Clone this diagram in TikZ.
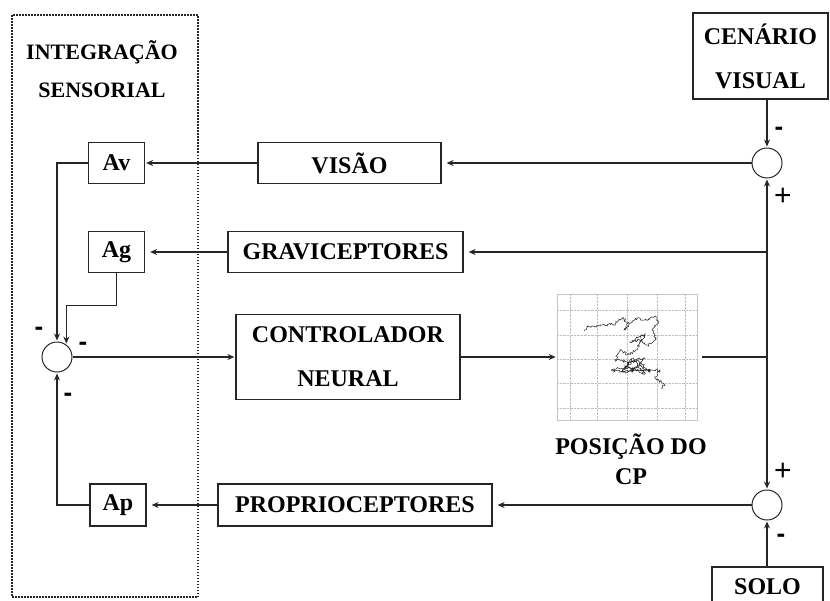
\documentclass[tikz,border=0pt]{standalone}
\usepackage{fontspec}
\setmainfont{Liberation Serif}
\setsansfont{Liberation Sans}
\usetikzlibrary{arrows.meta,calc,positioning,decorations.pathmorphing}

\begin{document}
\begin{tikzpicture}[x=1pt,y=-1pt,>={Stealth[length=7pt,width=6pt]},shorten >=1pt,
    line width=1.2pt,draw=black!85,
    blk/.style={draw,line width=1.2pt,inner sep=0pt,align=center,font=\bfseries\fontsize{24}{44}\selectfont},
    sumnode/.style={circle,draw,line width=1pt,minimum size=30pt,inner sep=0pt},
    sgn/.style={font=\sffamily\bfseries\fontsize{26}{26}\selectfont,inner sep=0pt},
    pls/.style={font=\sffamily\fontsize{30}{30}\selectfont,inner sep=0pt},
    ttl/.style={font=\bfseries\fontsize{22}{38}\selectfont,align=center,inner sep=0pt},
    gap/.style={shorten >=5pt}]
    \useasboundingbox (0,0) rectangle (830,600);
    \clip (0,0) rectangle (830,600);

    % integration block
    \draw[line width=1.5pt,dash pattern=on 1.5pt off 1.5pt] (12,15) rectangle (198,597);
    \node[ttl] (titulo) at (102,69) {INTEGRAÇÃO\\SENSORIAL};

    \node[blk,minimum width=56pt,minimum height=41pt] (av) at (116.5,163) {Av};
    \node[blk,minimum width=56pt,minimum height=41pt] (ag) at (116.5,252) {Ag};
    \node[blk,minimum width=56pt,minimum height=42pt] (ap) at (118,505) {Ap};
    \node[sumnode] (s_1) at (57,357) {};

    % sensors and controller
    \node[blk,minimum width=183pt,minimum height=41pt] (visao) at (349.5,163) {VISÃO};
    \node[blk,minimum width=235pt,minimum height=41pt] (gravi) at (345.5,252) {GRAVICEPTORES};
    \node[blk,minimum width=224pt,minimum height=85pt] (ctrl) at (348,357) {CONTROLADOR\\NEURAL};
    \node[blk,minimum width=274pt,minimum height=42pt] (propri) at (355,505) {PROPRIOCEPTORES};

    % CP trajectory
    \node[draw=gray!45,line width=0.6pt,minimum width=140pt,minimum height=126pt,inner sep=0pt] (cp) at (627,357) {};
    \foreach \gx in {570,597,627,657,685}
        \draw[gray!50,line width=0.4pt,densely dotted] (\gx,294) -- (\gx,420);
    \foreach \gy in {310,335,359,383,408}
        \draw[gray!50,line width=0.4pt,densely dotted] (557,\gy) -- (697,\gy);
    \pgfmathsetseed{7}
    \draw[line width=0.5pt,black!85,decorate,decoration={random steps,segment length=1.2pt,amplitude=1.3pt}]
        (584,331) -- (588,327) -- (600,326) -- (615,324) -- (622,318) -- (628,322) -- (624,330)
        -- (635,318) -- (645,320) -- (655,316) -- (658,322) -- (652,330) -- (656,338) -- (648,345)
        -- (640,340) -- (630,342) -- (645,334) -- (636,350) -- (628,355) -- (620,350) -- (615,360)
        -- (630,362) -- (645,358) -- (635,368) -- (618,368) -- (612,371) -- (628,372) -- (640,366)
        -- (650,372) -- (638,360) -- (625,366) -- (645,374) -- (632,358) -- (622,372) -- (640,370)
        -- (660,370) -- (655,378) -- (665,385) -- (660,388);
    \node[ttl,font=\bfseries\fontsize{24}{30}\selectfont] (cptxt) at (631,459.5) {POSIÇÃO DO\\CP};

    % right side
    \node[blk,minimum width=135pt,minimum height=86pt] (cenario) at (760.5,56) {CENÁRIO\\VISUAL};
    \node[blk,minimum width=111pt,minimum height=40pt] (solo) at (767.5,587) {SOLO};
    \node[sumnode] (s_2) at (767,163) {};
    \node[sumnode] (s_3) at (767,505) {};
    \coordinate (j_cp) at (767,357);
    \coordinate (j_g) at (767,252);
    \coordinate (ag_b) at ($(s_1.53)+(0,-39)$);

    \path[->]
        (s_2 |- cenario.south) edge (s_2)
        (s_3 |- solo.north) edge (s_3)
        (j_cp) edge (s_2)
        (j_cp) edge (s_3)
        (s_2) edge[gap] (visao)
        (j_g) edge[gap] (gravi)
        (s_3) edge[gap] (propri)
        (visao) edge (av)
        (gravi) edge[gap] (ag)
        (propri) edge[gap] (ap)
        (s_1) edge (ctrl)
        (ctrl) edge (cp);
    \draw[shorten <=5pt] (cp.east) -- (j_cp);
    \draw[->] (av.west) -| (s_1.north);
    \draw[->] (ag.south) |- (ag_b) -- (s_1.53);
    \draw[->] (ap.west) -| (s_1.south);

    % signs
    \node[sgn] at (39,331) {-};
    \node[sgn] at (83,346) {-};
    \node[sgn] at (68,397) {-};
    \node[sgn] at (779,131) {-};
    \node[pls] at (783,197) {+};
    \node[pls] at (783,472) {+};
    \node[sgn] at (781,538) {-};
\end{tikzpicture}
\end{document}
